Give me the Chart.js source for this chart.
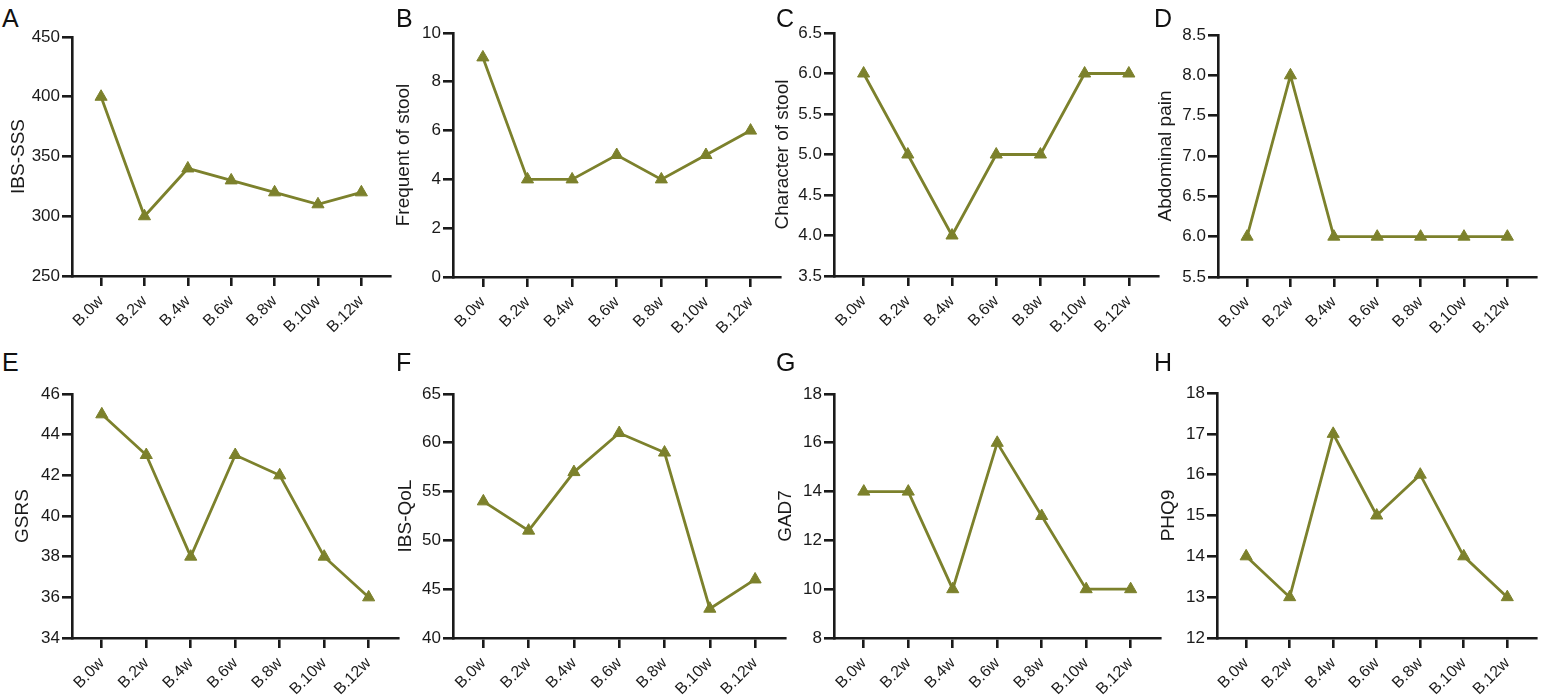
<!DOCTYPE html>
<html>
<head>
<meta charset="utf-8">
<script src="https://cdn.jsdelivr.net/npm/chart.js@4.4.0/dist/chart.umd.min.js"></script>
<style>
  html, body { margin: 0; padding: 0; background: #ffffff; }
  #wrap { position: relative; width: 1544px; height: 698px; overflow: hidden; background: #fff; }
  canvas { position: absolute; }
  .lbl { position: absolute; font-family: "Liberation Sans", Arial, sans-serif; font-size: 25px; color: #111; line-height: 1; }
</style>
</head>
<body>
<div id="wrap"></div>
<script>
// ---- data ----
const categories = ["B.0w", "B.2w", "B.4w", "B.6w", "B.8w", "B.10w", "B.12w"];

const ibsSss      = [400, 300, 340, 330, 320, 310, 320];
const freqStool   = [9, 4, 4, 5, 4, 5, 6];
const charStool   = [6, 5, 4, 5, 5, 6, 6];
const abdPain     = [6, 8, 6, 6, 6, 6, 6];
const gsrs        = [45, 43, 38, 43, 42, 38, 36];
const ibsQol      = [54, 51, 57, 61, 59, 43, 46];
const gad7        = [14, 14, 10, 16, 13, 10, 10];
const phq9        = [14, 13, 17, 15, 16, 14, 13];

const ticksA = [250, 300, 350, 400, 450];
const ticksB = [0, 2, 4, 6, 8, 10];
const ticksC = [3.5, 4.0, 4.5, 5.0, 5.5, 6.0, 6.5];
const ticksD = [5.5, 6.0, 6.5, 7.0, 7.5, 8.0, 8.5];
const ticksE = [34, 36, 38, 40, 42, 44, 46];
const ticksF = [40, 45, 50, 55, 60, 65];
const ticksG = [8, 10, 12, 14, 16, 18];
const ticksH = [12, 13, 14, 15, 16, 17, 18];

const panelLetters = ["A", "B", "C", "D", "E", "F", "G", "H"];
const axisTitles = ["IBS-SSS", "Frequent of stool", "Character of stool", "Abdominal pain",
                    "GSRS", "IBS-QoL", "GAD7", "PHQ9"];

// ---- layout (pixel geometry only) ----
const panels = [
  { values: ibsSss,    ticks: ticksA, dec: 0, axisX: 72,   top: 37,  bottom: 276, end: 390,  titleX: 18,   rowTop: 0,   rowH: 340, lx: 2,    ly: 6 },
  { values: freqStool, ticks: ticksB, dec: 0, axisX: 453,  top: 33,  bottom: 277, end: 780,  titleX: 403,  rowTop: 0,   rowH: 340, lx: 396,  ly: 6 },
  { values: charStool, ticks: ticksC, dec: 1, axisX: 834,  top: 33,  bottom: 276, end: 1158, titleX: 782,  rowTop: 0,   rowH: 340, lx: 776,  ly: 6 },
  { values: abdPain,   ticks: ticksD, dec: 1, axisX: 1218, top: 35,  bottom: 277, end: 1540, titleX: 1165, rowTop: 0,   rowH: 340, lx: 1154, ly: 6 },
  { values: gsrs,      ticks: ticksE, dec: 0, axisX: 72,   top: 394, bottom: 638, end: 398,  titleX: 22,   rowTop: 340, rowH: 358, lx: 2,    ly: 350 },
  { values: ibsQol,    ticks: ticksF, dec: 0, axisX: 453,  top: 394, bottom: 638, end: 785,  titleX: 405,  rowTop: 340, rowH: 358, lx: 396,  ly: 350 },
  { values: gad7,      ticks: ticksG, dec: 0, axisX: 834,  top: 394, bottom: 638, end: 1160, titleX: 785,  rowTop: 340, rowH: 358, lx: 776,  ly: 350 },
  { values: phq9,      ticks: ticksH, dec: 0, axisX: 1217, top: 393, bottom: 638, end: 1544, titleX: 1168, rowTop: 340, rowH: 358, lx: 1154, ly: 350 }
];

const OLIVE = "#7c812c";
const INK = "#1a1a1a";
const FONT = "'Liberation Sans', Arial, sans-serif";
const TITLE_SIZE = 19;

const wrap = document.getElementById("wrap");

panels.forEach((p, idx) => {
  const lab = document.createElement("div");
  lab.className = "lbl";
  lab.textContent = panelLetters[idx];
  lab.style.left = p.lx + "px";
  lab.style.top = p.ly + "px";
  wrap.appendChild(lab);

  const titleH = TITLE_SIZE * 1.2;
  const left = Math.round(p.titleX - titleH / 2);
  const width = Math.min(1544, p.end + 8) - left;
  const cv = document.createElement("canvas");
  cv.width = width;
  cv.height = p.rowH;
  cv.style.left = left + "px";
  cv.style.top = p.rowTop + "px";
  cv.style.width = width + "px";
  cv.style.height = p.rowH + "px";
  wrap.appendChild(cv);

  const yW = p.axisX - left;
  const xH = p.rowTop + p.rowH - p.bottom;
  const padTop = p.top - p.rowTop;
  const padRight = width - (p.end - left);

  const pts = p.values.map((v, i) => ({ x: i, y: v }));

  new Chart(cv, {
    type: "line",
    data: {
      datasets: [{
        data: pts,
        borderColor: OLIVE,
        backgroundColor: OLIVE,
        borderWidth: 2.8,
        pointStyle: "triangle",
        pointRadius: 7,
        pointHoverRadius: 7,
        pointBackgroundColor: OLIVE,
        pointBorderColor: OLIVE,
        pointBorderWidth: 1,
        tension: 0,
        clip: false
      }]
    },
    options: {
      responsive: false,
      animation: false,
      devicePixelRatio: 1,
      layout: { padding: { top: padTop, right: padRight, left: 0, bottom: 0 } },
      plugins: { legend: { display: false }, tooltip: { enabled: false } },
      scales: {
        x: {
          type: "linear",
          min: -0.67,
          max: 6.66,
          afterFit: s => { s.height = xH; },
          afterBuildTicks: s => { s.ticks = categories.map((c, i) => ({ value: i })); },
          grid: { display: true, drawOnChartArea: false, drawTicks: true, tickLength: 10, color: INK, lineWidth: 2.6 },
          border: { display: true, color: INK, width: 2.6 },
          ticks: {
            autoSkip: false,
            maxRotation: 45,
            minRotation: 45,
            padding: 6,
            color: INK,
            font: { family: FONT, size: 16 },
            callback: v => categories[v]
          }
        },
        y: {
          min: p.ticks[0],
          max: p.ticks[p.ticks.length - 1],
          afterFit: s => { s.width = yW; },
          afterBuildTicks: s => { s.ticks = p.ticks.map(v => ({ value: v })); },
          grid: { display: true, drawOnChartArea: false, drawTicks: true, tickLength: 10, color: INK, lineWidth: 2.6 },
          border: { display: true, color: INK, width: 2.6 },
          title: {
            display: true,
            text: axisTitles[idx],
            color: INK,
            padding: 0,
            font: { family: FONT, size: TITLE_SIZE, lineHeight: 1.2 }
          },
          ticks: {
            padding: 2,
            color: INK,
            font: { family: FONT, size: 17 },
            callback: v => Number(v).toFixed(p.dec)
          }
        }
      }
    }
  });
});
</script>
</body>
</html>
